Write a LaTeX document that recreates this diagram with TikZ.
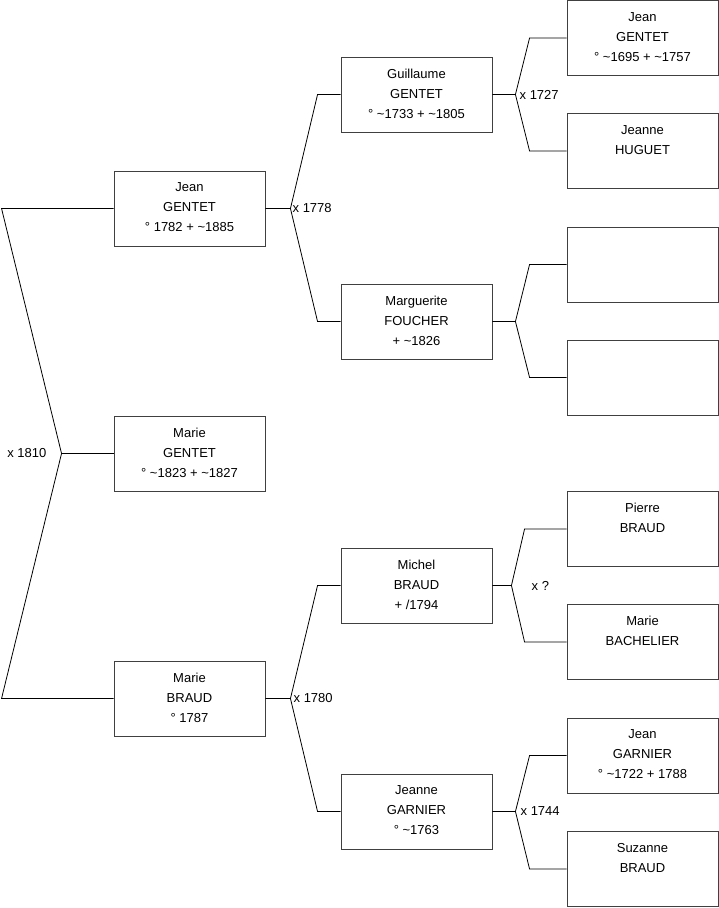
\documentclass[tikz,border=0pt]{standalone}
\usepackage{fontspec}
\setmainfont{Liberation Sans}
\usetikzlibrary{positioning}

\newcommand{\ca}{\textasciitilde}
\newcommand{\who}[1]{\parbox[c][51pt][t]{150pt}{\centering #1}}

\tikzset{
  person/.style={draw=black!75, line width=0.9pt, inner sep=0pt,
                 minimum width=151pt, minimum height=75pt},
  link/.style={draw=black, line width=0.8pt},
  wed/.style={anchor=west, inner sep=0pt}
}

\begin{document}
\begin{tikzpicture}[x=1pt, y=-1pt, font=\fontsize{13}{20}\selectfont]
  \useasboundingbox (0,0) rectangle (719,908);

  % people, left to right
  \foreach \id/\cx/\cy/\txt in
    {jeanG/189.5/208.5/{Jean\\GENTET\\° 1782 + \ca1885},
     marieG/189.5/453.5/{Marie\\GENTET\\° \ca1823 + \ca1827},
     marieB/189.5/698.5/{Marie\\BRAUD\\° 1787},
     guil/416.5/94.5/{Guillaume\\GENTET\\° \ca1733 + \ca1805},
     marg/416.5/321.5/{Marguerite\\FOUCHER\\+ \ca1826},
     michel/416.5/585.5/{Michel\\BRAUD\\+ /1794},
     jeanne/416.5/811.5/{Jeanne\\GARNIER\\° \ca1763},
     jean/642.5/38/{Jean\\GENTET\\° \ca1695 + \ca1757},
     huguet/642.5/151/{Jeanne\\HUGUET},
     anon1/642.5/264.5/{},
     anon2/642.5/377.5/{},
     pierre/642.5/529/{Pierre\\BRAUD},
     bach/642.5/642/{Marie\\BACHELIER},
     garnier/642.5/755.5/{Jean\\GARNIER\\° \ca1722 + 1788},
     suzanne/642.5/869/{Suzanne\\BRAUD}} {
    \node[person] (\id) at (\cx,\cy) {\who{\txt}};
  }

  % parents forks
  \foreach \kid/\dad/\mum/\fk/\el/\lx/\lab in
    {jeanG/guil/marg/25/23/2/{x 1778},
     marieB/michel/jeanne/25/23/3/{x 1780},
     guil/jean/huguet/23/37/4/{x 1727},
     marg/anon1/anon2/23/37/0/{},
     michel/pierre/bach/19/42/20/{x ?},
     jeanne/garnier/suzanne/23/37/5/{x 1744}} {
    \draw[link] (\kid.east) -- ([xshift=\fk pt]\kid.east) coordinate (f\kid)
      -- ([xshift=-\el pt]\dad.west) -- (\dad.west);
    \draw[link] (f\kid) -- ([xshift=-\el pt]\mum.west) -- (\mum.west);
    \node[wed] at ([xshift=\lx pt]f\kid) {\lab};
  }

  % marriage of the two sides
  \coordinate (rootfork) at ([xshift=-52pt]marieG.west);
  \draw[link] (jeanG.west) -- ([xshift=-112pt]jeanG.west) -- (rootfork)
    -- ([xshift=-112pt]marieB.west) -- (marieB.west);
  \draw[link] (rootfork) -- (marieG.west);
  \node[anchor=east, inner sep=0pt] at ([xshift=-15pt]rootfork) {x 1810};
\end{tikzpicture}
\end{document}
